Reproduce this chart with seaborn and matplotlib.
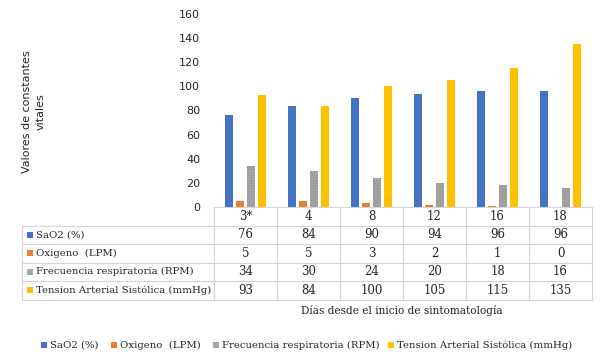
import matplotlib
matplotlib.use("Agg")
import matplotlib.pyplot as plt
import matplotlib.patches as mpatches
import seaborn as sns
import pandas as pd

dias = ["3*", "4", "8", "12", "16", "18"]
series = ["SaO2 (%)", "Oxigeno  (LPM)", "Frecuencia respiratoria (RPM)",
          "Tension Arterial Sistólica (mmHg)"]
sao2 = [76, 84, 90, 94, 96, 96]
oxigeno = [5, 5, 3, 2, 1, 0]
frecuencia = [34, 30, 24, 20, 18, 16]
tension = [93, 84, 100, 105, 115, 135]
colores = ["#4472C4", "#ED7D31", "#A5A5A5", "#FFC000"]

valores = [sao2, oxigeno, frecuencia, tension]
df = pd.DataFrame([
    {"dia": d, "serie": s, "valor": v}
    for s, vals in zip(series, valores)
    for d, v in zip(dias, vals)
])

sns.set_style("white")
serif = ["DejaVu Serif"]
sans = ["DejaVu Sans"]
txt = "#262626"
plt.rcParams["hatch.linewidth"] = 0.6

W, H = 607, 364
fig = plt.figure(figsize=(W / 100, H / 100), dpi=100)

# plot area in pixels
x0, x1 = 214, 592
y_top, y_bot = 14, 207
ax = fig.add_axes([x0 / W, 1 - y_bot / H, (x1 - x0) / W, (y_bot - y_top) / H])

sns.barplot(data=df, x="dia", y="valor", hue="serie", hue_order=series,
            palette=colores, order=dias, width=0.7, gap=0.2, linewidth=0,
            legend=False, ax=ax, saturation=1)

# the gray series has a fine texture in the original
for cont in ax.containers[2:3]:
    for bar in cont:
        bar.set_hatch("......")
        bar.set_edgecolor("#8f8f8f")
        bar.set_linewidth(0)

ax.set_xlim(-0.5, len(dias) - 0.5)
ax.set_ylim(0, 160)
ax.set_yticks(range(0, 161, 20))
ax.tick_params(axis="y", length=0, labelsize=8, pad=10, labelcolor=txt)
ax.set_xticks([])
ax.set_xlabel("")
ax.set_ylabel("")
for sp in ax.spines.values():
    sp.set_visible(False)

# y label
fig.text(34 / W, 1 - 112 / H, "Valores de constantes\nvitales", rotation=90,
         ha="center", va="center", fontsize=8, family=sans, color=txt,
         multialignment="center", linespacing=1.5)

# data table under the plot
def fy(py):
    return 1 - py / H

def fx(px):
    return px / W

rows = [207, 225.5, 244, 262.5, 281, 299.5]
tab_left = 22
lc = "#d4d4d4"
fig.add_artist(plt.Line2D([fx(x0), fx(x1)], [fy(rows[0])] * 2, color=lc, lw=0.8))
for r in rows[1:]:
    fig.add_artist(plt.Line2D([fx(tab_left), fx(x1)], [fy(r)] * 2, color=lc, lw=0.8))
fig.add_artist(plt.Line2D([fx(tab_left)] * 2, [fy(rows[1]), fy(rows[-1])], color=lc, lw=0.8))
colw = (x1 - x0) / len(dias)
for i in range(len(dias) + 1):
    xx = x0 + i * colw
    fig.add_artist(plt.Line2D([fx(xx)] * 2, [fy(rows[0]), fy(rows[-1])], color=lc, lw=0.8))

for i, d in enumerate(dias):
    cx = fx(x0 + (i + 0.5) * colw)
    fig.text(cx, fy((rows[0] + rows[1]) / 2), d, ha="center", va="center",
             fontsize=8.5, family=serif, color=txt)
    for j, vals in enumerate(valores):
        fig.text(cx, fy((rows[j + 1] + rows[j + 2]) / 2), str(vals[i]),
                 ha="center", va="center", fontsize=8.5, family=serif, color=txt)

for j, s in enumerate(series):
    cy = (rows[j + 1] + rows[j + 2]) / 2
    fig.add_artist(mpatches.Rectangle((fx(27), fy(cy + 3)), 6 / W, 6 / H,
                                      color=colores[j], lw=0))
    fig.text(fx(36), fy(cy), s, ha="left", va="center", fontsize=7.3,
             family=serif, color=txt)

fig.text(fx(402), fy(311), "Días desde el inicio de sintomatología", ha="center",
         va="center", fontsize=7.6, family=serif, color=txt)

# legend entries along the bottom
leg_x = [41, 111, 213, 388]
for c, s, lx in zip(colores, series, leg_x):
    fig.add_artist(mpatches.Rectangle((fx(lx), fy(348)), 6 / W, 6 / H, color=c, lw=0))
    fig.text(fx(lx + 9), fy(345), s, ha="left", va="center", fontsize=7.3,
             family=serif, color=txt)

fig.savefig("out.png", dpi=100)
